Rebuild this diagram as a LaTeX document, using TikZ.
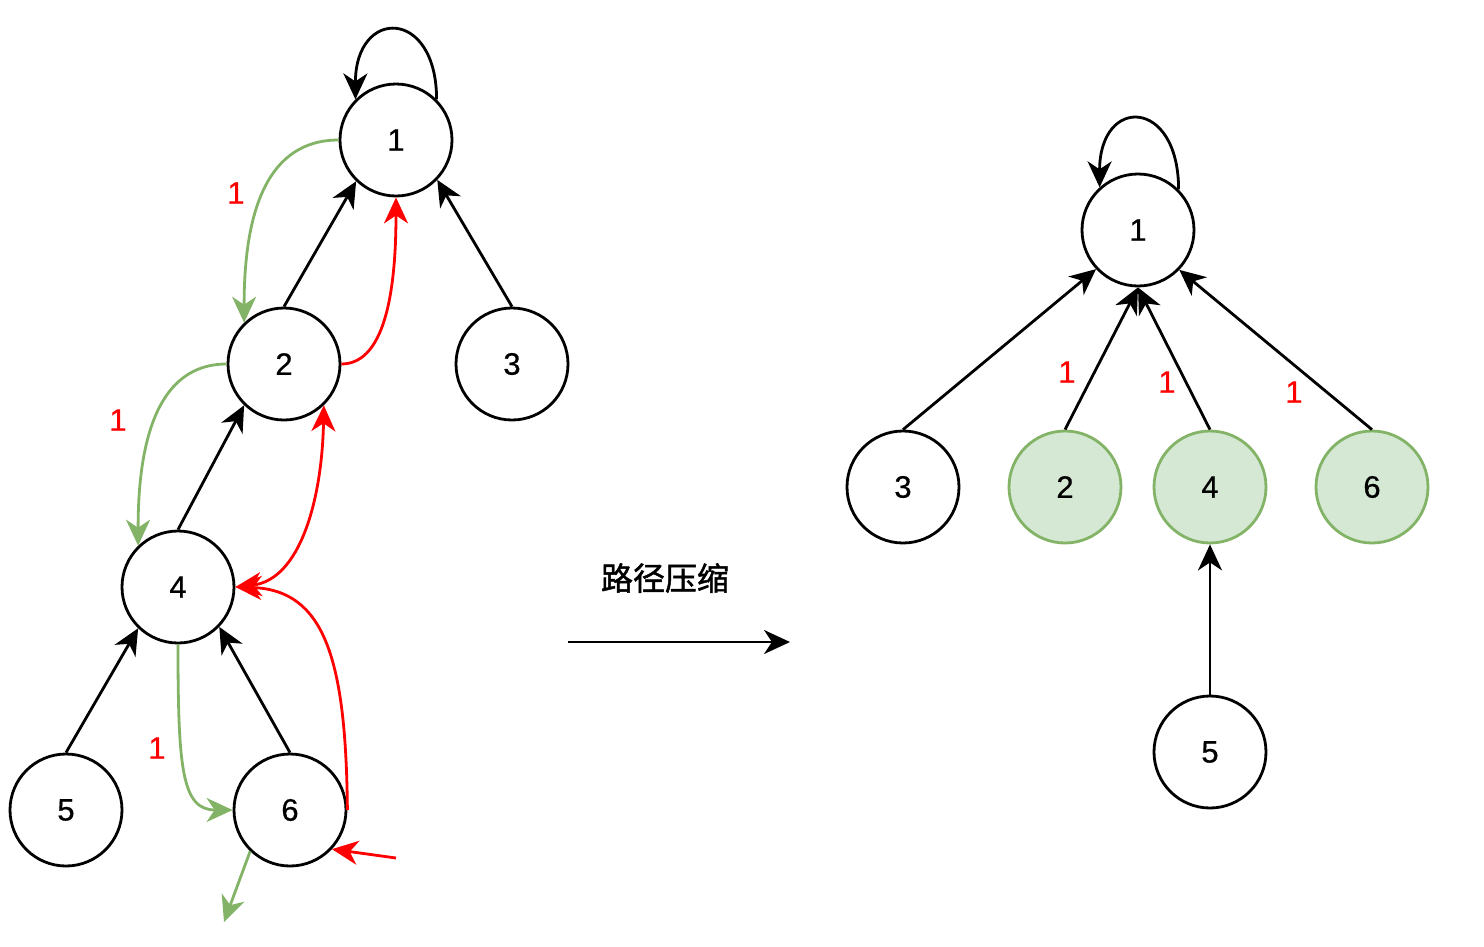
\documentclass[tikz,border=0pt]{standalone}
\usepackage{fontspec}
\setmainfont{Liberation Sans}[FakeBold=0.6]
\newfontfamily\cjk{Noto Sans CJK SC}[FakeBold=1.5]
\usetikzlibrary{arrows.meta}
\definecolor{gline}{HTML}{82B366}
\definecolor{gfill}{HTML}{D5E8D4}
\definecolor{rline}{HTML}{FF0000}
\tikzset{
  vtx/.style={circle,draw=black,line width=2.8pt,minimum size=112pt,inner sep=0pt,fill=white,font=\fontsize{31}{36}\selectfont},
  gvtx/.style={vtx,draw=gline,fill=gfill},
  edge/.style={line width=2.8pt,-{Stealth[length=26pt,width=24pt,inset=8pt]}},
  bedge/.style={line width=2.8pt,{Stealth[length=26pt,width=24pt,inset=8pt]}-{Stealth[length=26pt,width=24pt,inset=8pt]}},
  lbl/.style={text=rline,font=\fontsize{31}{36}\selectfont,inner sep=0pt}
}
\begin{document}
\begin{tikzpicture}[x=1pt,y=-1pt]
\useasboundingbox (0,0) rectangle (1484,946);
% left tree
\node[vtx] (l1) at (396,140) {1};
\node[vtx] (l2) at (284,364) {2};
\node[vtx] (l3) at (512,364) {3};
\node[vtx] (l4) at (178,587) {4};
\node[vtx] (l5) at (66,810) {5};
\node[vtx] (l6) at (290,810) {6};
\coordinate (rin) at (396,858);
\coordinate (gout) at (224,922);
% black edges
\draw[edge] (l1.45) .. controls +(0,-92) and +(0,-92) .. (l1.135);
\draw[edge] (l2.north) -- (l1.226);
\draw[edge] (l3.north) -- (l1.316);
\draw[edge] (l4.north) -- (l2.226);
\draw[edge] (l5.north) -- (l4.226);
\draw[edge] (l6.north) -- (l4.316);
% green edges
\draw[edge,draw=gline,color=gline] (l1.west) .. controls (268,140) and (244,210) .. (l2.134);
\draw[edge,draw=gline,color=gline] (l2.west) .. controls (158,364) and (138,440) .. (l4.134);
\draw[edge,draw=gline,color=gline] (l4.south) .. controls (178,770) and (182,810) .. (l6.west);
\draw[edge,draw=gline,color=gline] (l6.226) -- (gout);
% red edges
\draw[edge,draw=rline,color=rline] (l2.east) .. controls (388,364) and (396,280) .. (l1.south);
\draw[bedge,draw=rline,color=rline] (l4.east) .. controls (300,580) and (322,500) .. (l2.314);
\draw[edge,draw=rline,color=rline] (l6.east) .. controls (346,660) and (325,590) .. (l4.east);
\draw[edge,draw=rline,color=rline] (rin) -- (l6.317);
% labels
\node[lbl] (a1) at (236,193) {1};
\node[lbl] (a2) at (118,420) {1};
\node[lbl] (a3) at (157,748) {1};
% middle
\node[font=\cjk\fontsize{32}{38}\selectfont,inner sep=0pt] (t) at (665,578) {路径压缩};
\coordinate (ma) at (568,642);
\coordinate (mb) at (790,642);
\draw[edge] (ma) -- (mb);
% right tree
\node[vtx] (r1) at (1138,230) {1};
\node[vtx] (r3) at (903,487) {3};
\node[gvtx] (r2) at (1065,487) {2};
\node[gvtx] (r4) at (1210,487) {4};
\node[gvtx] (r6) at (1372,487) {6};
\node[vtx] (r5) at (1210,752) {5};
\draw[edge] (r1.45) .. controls +(0,-92) and +(0,-92) .. (r1.132);
\draw[edge] (r3.north) -- (r1.223);
\draw[edge] (r2.north) -- (r1.south);
\draw[edge] (r4.north) -- (r1.south);
\draw[edge] (r6.north) -- (r1.316);
\draw[edge] (r5.north) -- (r4.south);
\node[lbl] (b1) at (1067,372) {1};
\node[lbl] (b2) at (1167,382) {1};
\node[lbl] (b3) at (1294,392) {1};
\end{tikzpicture}
\end{document}
